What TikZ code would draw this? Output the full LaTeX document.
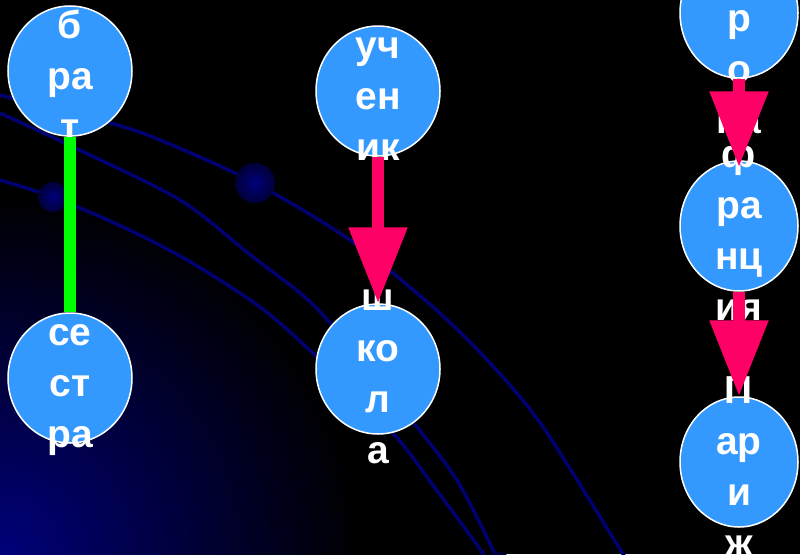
\documentclass[tikz,border=0pt]{standalone}
\usepackage{fontspec}
\setmainfont{Liberation Sans}
\newfontfamily\wordfont{Liberation Sans Bold}
\usetikzlibrary{arrows.meta,shapes.geometric}

\definecolor{bubblefill}{RGB}{51,153,255}
\definecolor{arrowpink}{RGB}{255,0,102}
\definecolor{linkgreen}{RGB}{0,255,0}
\definecolor{orbitblue}{RGB}{0,0,112}
\definecolor{glow}{RGB}{0,0,122}
\definecolor{balllight}{RGB}{0,0,125}
\definecolor{balldark}{RGB}{0,0,55}

\pgfdeclareradialshading{cornerglow}{\pgfpoint{0bp}{0bp}}{%
  color(0bp)=(glow); color(8bp)=(glow!55!black);
  color(18bp)=(black); color(50bp)=(black)}

\tikzset{
  bubble/.style={ellipse, draw=white, line width=1.5pt, fill=bubblefill,
    minimum width=124pt, minimum height=130pt, inner sep=0pt},
  narrow/.style={minimum width=118pt},
  word/.style={text=white, font=\wordfont\fontsize{39}{51}\selectfont,
    align=center, inner sep=0pt, yshift=-8pt},
  pair/.style={draw=linkgreen, line width=12pt},
  kind/.style={draw=arrowpink, line width=12pt,
    -{Triangle[length=76pt,width=56pt]}},
  orbit/.style={draw=orbitblue, line width=3.5pt},
}

\begin{document}
\begin{tikzpicture}[x=1pt,y=-1pt]
    \useasboundingbox (0,0) rectangle (800,554);
    \clip (0,0) rectangle (800,554);
    \fill[black] (0,0) rectangle (800,554);
    \shade[shading=cornerglow] (0,554) circle (500);

    % orbits behind the words
    \draw[orbit] plot[smooth] coordinates {(-10,92) (0,95) (110,123) (160,140) (255,183) (350,240) (433,307) (490,363) (543,427) (623,554) (631,568)};
    \draw[orbit] plot[smooth] coordinates {(-10,108) (0,113) (73,147) (180,200) (253,257) (300,293) (330,323) (417,427) (458,482) (493,550) (497,566)};
    \draw[orbit] plot[smooth] coordinates {(-10,177) (0,180) (53,197) (123,227) (187,260) (260,307) (317,357) (393,433) (435,488) (482,552) (489,566)};
    \shade[inner color=balllight, outer color=balldark] (255,183) circle (20);
    \shade[inner color=balllight, outer color=balldark] (53,197) circle (15);
    \shade[inner color=balllight, outer color=balldark] (498,567) circle (15);

    \node[bubble, label={[word]center:{\strut б\\ра\\т\strut}}] (brat) at (70,71) {};
    \node[bubble, label={[word]center:{\strut се\\ст\\ра\strut}}] (sestra) at (70,378) {};
    \node[bubble, label={[word]center:{\strut уч\\ен\\ик\strut}}] (uchenik) at (378,91) {};
    \node[bubble, label={[word]center:{\strut ш\\ко\\л\\а\strut}}] (shkola) at (378,369) {};
    \node[bubble, narrow, label={[word]center:{\strut Е\\в\\р\\о\\па\strut}}] (evropa) at (739,13) {};
    \node[bubble, narrow, label={[word]center:{\strut ф\\ра\\нц\\ия\strut}}] (franciya) at (739,226) {};
    \node[bubble, narrow, label={[word]center:{\strut П\\ар\\и\\ж\strut}}] (parizh) at (739,462) {};

    \draw[pair] (brat) -- (sestra);
    \draw[kind] (uchenik) -- (shkola);
    \draw[kind, shorten >=-7pt] (evropa) -- (franciya);
    \draw[kind] (franciya) -- (parizh);
\end{tikzpicture}
\end{document}
